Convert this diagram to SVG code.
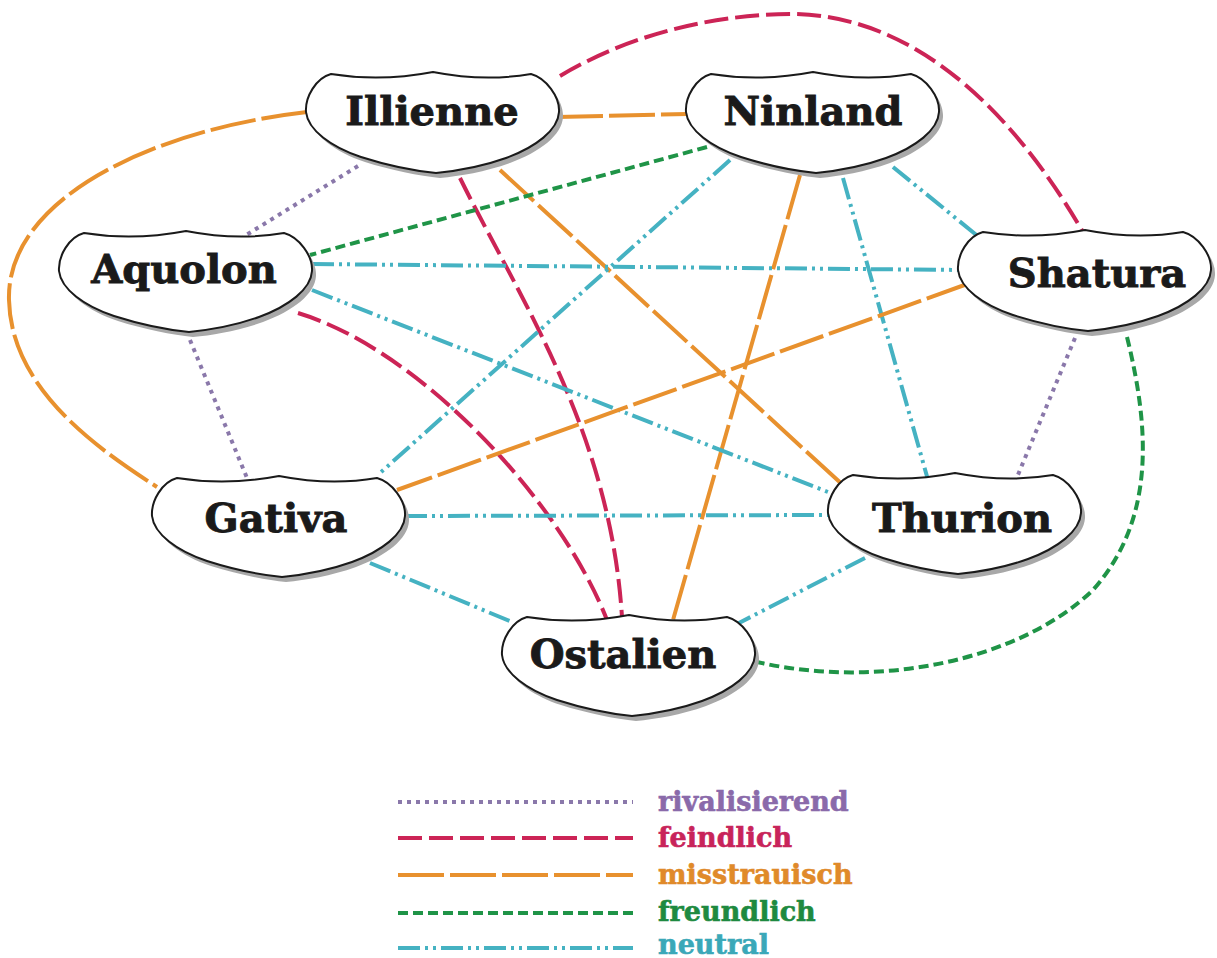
<svg xmlns="http://www.w3.org/2000/svg" width="1217" height="958" viewBox="0 0 1217 958">
<style>
.edge{fill:none;stroke-width:4}
.riv{stroke:#8a78aa;stroke-dasharray:4 5}
.fei{stroke:#cc2456;stroke-dasharray:24 7}
.mis{stroke:#e8912e;stroke-dasharray:46 6}
.fre{stroke:#1f9447;stroke-dasharray:10 5}
.neu{stroke:#45b2c2;stroke-dasharray:22 5 3 5 3 5}
.shape{fill:#fff;stroke:#1a1a1a;stroke-width:2}
.shadow{fill:#a8a8a8}
.label{font-family:"DejaVu Serif","Liberation Serif",serif;font-weight:bold;font-size:40px;fill:#1a1a1a;stroke:#1a1a1a;stroke-width:0.9;text-anchor:middle}
.leg{font-family:"DejaVu Serif","Liberation Serif",serif;font-weight:bold;font-size:27px;stroke-width:0.6}
</style>
<defs>
<path id="cushion" d="M 25 2 Q 75 10 127 0 Q 178 10 225 2 C 240 6 254 25 253 40 C 252 58 230 75 200 86 C 175 95 150 99 130 101 C 110 99 80 93 55 85 C 25 75 2 58 0 40 C -1 25 10 6 25 2 Z"/>
</defs>
<rect width="1217" height="958" fill="#fff"/>
<g id="connectors">
<line class="edge riv" x1="358" y1="166" x2="243" y2="237"/>
<line class="edge mis" x1="557" y1="117" x2="688" y2="114"/>
<path class="edge fei" d="M 560 76 C 620 40 700 15 790 14 C 900 14 1000 90 1083 232"/>
<path class="edge mis" d="M 307 112 C 150 130 6 200 9 300 C 11 390 100 450 157 487"/>
<path class="edge fei" d="M 460 178 C 520 300 610 430 622 617"/>
<line class="edge mis" x1="500" y1="170" x2="845" y2="487"/>
<line class="edge fre" x1="707" y1="147" x2="310" y2="255"/>
<line class="edge neu" x1="730" y1="160" x2="380" y2="473"/>
<line class="edge mis" x1="800" y1="175" x2="673" y2="620"/>
<line class="edge neu" x1="843" y1="178" x2="928" y2="480"/>
<line class="edge neu" x1="893" y1="167" x2="985" y2="242"/>
<line class="edge neu" x1="312" y1="264" x2="965" y2="270"/>
<line class="edge neu" x1="312" y1="290" x2="833" y2="494"/>
<path class="edge fei" d="M 298 313 C 420 350 560 500 607 620"/>
<line class="edge riv" x1="190" y1="340" x2="247" y2="478"/>
<line class="edge mis" x1="970" y1="283" x2="397" y2="490"/>
<line class="edge riv" x1="1075" y1="338" x2="1015" y2="482"/>
<path class="edge fre" d="M 1127 337 C 1150 430 1155 520 1093 590 C 1020 660 880 690 757 662"/>
<line class="edge neu" x1="405" y1="516" x2="832" y2="515"/>
<line class="edge neu" x1="370" y1="563" x2="512" y2="622"/>
<line class="edge neu" x1="865" y1="558" x2="737" y2="624"/>
</g>
<g id="node-illienne" transform="translate(306,72)">
<use href="#cushion" class="shadow" x="4" y="5"/><use href="#cushion" class="shape"/>
<text class="label" x="126" y="53">Illienne</text>
</g>
<g id="node-ninland" transform="translate(686,72)">
<use href="#cushion" class="shadow" x="4" y="5"/><use href="#cushion" class="shape"/>
<text class="label" x="127" y="53">Ninland</text>
</g>
<g id="node-aquolon" transform="translate(59,231)">
<use href="#cushion" class="shadow" x="4" y="5"/><use href="#cushion" class="shape"/>
<text class="label" x="125" y="52">Aquolon</text>
</g>
<g id="node-shatura" transform="translate(958,230)">
<use href="#cushion" class="shadow" x="4" y="5"/><use href="#cushion" class="shape"/>
<text class="label" x="139" y="57">Shatura</text>
</g>
<g id="node-gativa" transform="translate(152,476)">
<use href="#cushion" class="shadow" x="4" y="5"/><use href="#cushion" class="shape"/>
<text class="label" x="124" y="56">Gativa</text>
</g>
<g id="node-thurion" transform="translate(828,473)">
<use href="#cushion" class="shadow" x="4" y="5"/><use href="#cushion" class="shape"/>
<text class="label" x="134" y="59">Thurion</text>
</g>
<g id="node-ostalien" transform="translate(502,615)">
<use href="#cushion" class="shadow" x="4" y="5"/><use href="#cushion" class="shape"/>
<text class="label" x="121" y="53">Ostalien</text>
</g>
<g id="legend">
<line class="edge riv" x1="398" y1="802" x2="633" y2="802"/>
<line class="edge fei" x1="398" y1="838" x2="633" y2="838"/>
<line class="edge mis" x1="398" y1="875" x2="633" y2="875"/>
<line class="edge fre" x1="398" y1="913" x2="633" y2="913"/>
<line class="edge neu" x1="398" y1="948" x2="633" y2="948"/>
<text class="leg" x="658" y="811" fill="#8a6aaa" stroke="#8a6aaa">rivalisierend</text>
<text class="leg" x="658" y="847" fill="#c8245a" stroke="#c8245a">feindlich</text>
<text class="leg" x="658" y="884" fill="#e08a2a" stroke="#e08a2a">misstrauisch</text>
<text class="leg" x="658" y="921" fill="#1e8a40" stroke="#1e8a40">freundlich</text>
<text class="leg" x="658" y="954" fill="#3aa8b8" stroke="#3aa8b8">neutral</text>
</g>
</svg>
